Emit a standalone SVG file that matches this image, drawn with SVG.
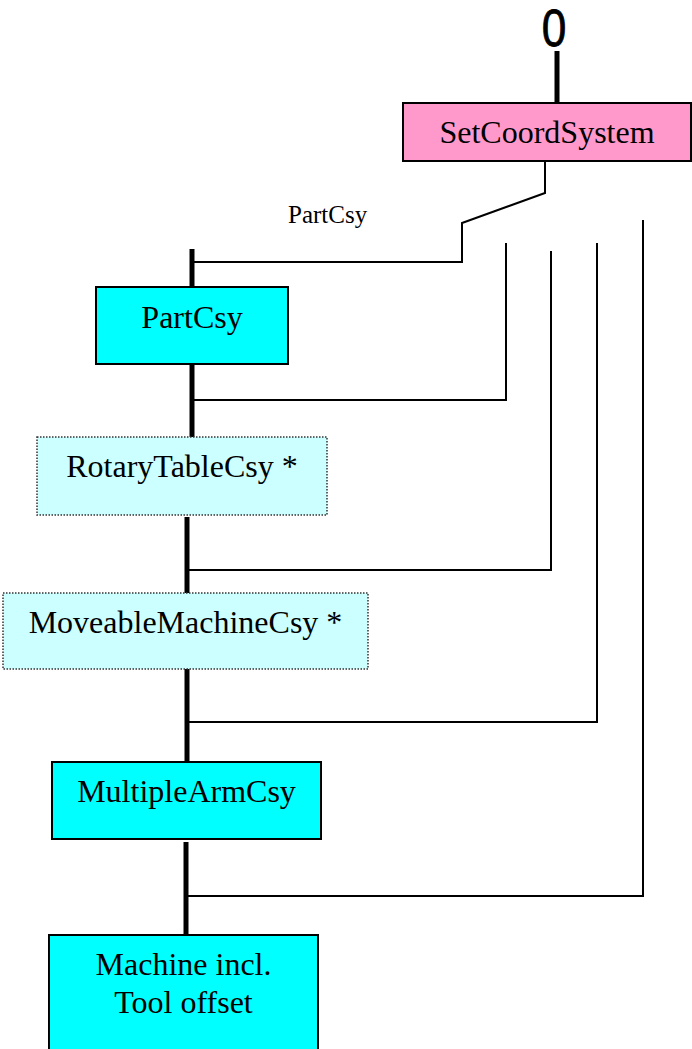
<svg xmlns="http://www.w3.org/2000/svg" width="692" height="1049" viewBox="0 0 692 1049">
<style>
.box{stroke:#000;stroke-width:2}
.solid{fill:#00FFFF}
.opt{fill:#CCFFFF;stroke:#333;stroke-width:1.5;stroke-dasharray:1.5 1.5}
.pink{fill:#FF99CC}
.lbl{font-family:"Liberation Serif","Times New Roman",serif;font-size:32px;fill:#000;text-anchor:middle}
.small{font-family:"Liberation Serif","Times New Roman",serif;font-size:25px;fill:#000}
.thick{stroke:#000;stroke-width:5;fill:none}
.thin{stroke:#000;stroke-width:2;fill:none}
</style>
<rect width="692" height="1049" fill="#fff"/>
<g id="connectors">
<line class="thick" x1="557" y1="51" x2="557" y2="103"/>
<line class="thick" x1="192" y1="249" x2="192" y2="287"/>
<line class="thick" x1="192" y1="364" x2="192" y2="438"/>
<line class="thick" x1="187" y1="517" x2="187" y2="593"/>
<line class="thick" x1="187" y1="669" x2="187" y2="764"/>
<line class="thick" x1="186" y1="842" x2="186" y2="937"/>
<polyline class="thin" points="545,161 545,193 462,223 462,262 192,262"/>
<polyline class="thin" points="506,243 506,400 192,400"/>
<polyline class="thin" points="551,251 551,570 187,570"/>
<polyline class="thin" points="597,243 597,722 187,722"/>
<polyline class="thin" points="643,220 643,896 186,896"/>
<text class="small" x="288" y="223">PartCsy</text>
</g>
<g id="start">
<text x="554" y="46" transform="translate(554 0) scale(0.85 1) translate(-554 0)" font-family="Liberation Sans, Arial, sans-serif" font-size="52" text-anchor="middle" fill="#000" stroke="#000" stroke-width="0.8">0</text>
</g>
<g id="SetCoordSystem">
<rect class="box pink" x="403" y="103" width="288" height="58"/>
<text class="lbl" x="547" y="143">SetCoordSystem</text>
</g>
<g id="PartCsy">
<rect class="box solid" x="96" y="287" width="192" height="77"/>
<text class="lbl" x="192" y="328">PartCsy</text>
</g>
<g id="RotaryTableCsy">
<rect class="opt" x="37" y="437" width="290" height="78"/>
<text class="lbl" x="182" y="477">RotaryTableCsy *</text>
</g>
<g id="MoveableMachineCsy">
<rect class="opt" x="3" y="593" width="365" height="76"/>
<text class="lbl" x="185.5" y="633">MoveableMachineCsy *</text>
</g>
<g id="MultipleArmCsy">
<rect class="box solid" x="52" y="762" width="269" height="77"/>
<text class="lbl" x="186.5" y="802">MultipleArmCsy</text>
</g>
<g id="Machine">
<rect class="box solid" x="49" y="935" width="269" height="130"/>
<text class="lbl" x="183.5" y="975">Machine incl.</text>
<text class="lbl" x="183.5" y="1013">Tool offset</text>
</g>
</svg>
